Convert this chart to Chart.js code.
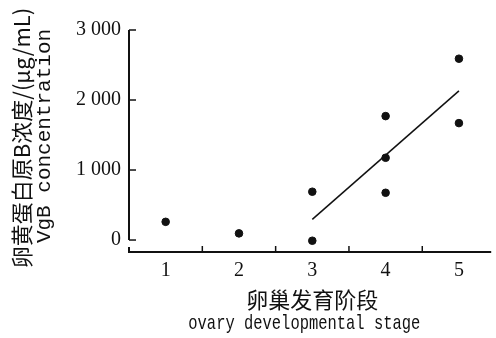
<!DOCTYPE html>
<html>
<head>
<meta charset="utf-8">
<script src="https://cdn.jsdelivr.net/npm/chart.js@4"></script>
<style>
  body { margin: 0; background: #fff; }
  #wrap { width: 496px; height: 338px; }
</style>
</head>
<body>
<div id="wrap"><canvas id="myChart"></canvas></div>
<script>
// data
var stages = [1, 2, 3, 4, 5];
var pointStage = [1, 2, 3, 3, 4, 4, 4, 5, 5];
var pointVgB = [260, 95, 690, -10, 1770, 1175, 675, 2590, 1670];
var trendStage = [3, 5];
var trendVgB = [295, 2130];
var yTicks = [0, 1000, 2000, 3000];

var yTitleZh = "卵黄蛋白原B浓度/(μg/mL)";
var yTitleEn = "VgB concentration";
var xTitleZh = "卵巢发育阶段";
var xTitleEn = "ovary developmental stage";

var ink = "#111";

function spaced(v) {
  return String(v).replace(/\B(?=(\d{3})+(?!\d))/g, " ");
}

var scatterData = [];
for (var i = 0; i < pointStage.length; i++) {
  scatterData.push({ x: pointStage[i], y: pointVgB[i] });
}
var trendData = [];
for (var j = 0; j < trendStage.length; j++) {
  trendData.push({ x: trendStage[j], y: trendVgB[j] });
}

// axes lines, inward ticks and the two-line titles
var axesPlugin = {
  id: "axesPlugin",
  afterDraw: function (chart) {
    var ctx = chart.ctx;
    var ca = chart.chartArea;
    var xs = chart.scales.x;
    var ys = chart.scales.y;
    ctx.save();
    ctx.strokeStyle = ink;
    ctx.lineWidth = 2;

    // y axis from 0 to 3000
    var y0 = ys.getPixelForValue(yTicks[0]);
    var yTop = ys.getPixelForValue(yTicks[yTicks.length - 1]);
    ctx.beginPath();
    ctx.moveTo(ca.left, yTop);
    ctx.lineTo(ca.left, y0);
    ctx.stroke();
    ctx.lineWidth = 1.5;
    for (var k = 0; k < yTicks.length; k++) {
      var py = ys.getPixelForValue(yTicks[k]);
      ctx.beginPath();
      ctx.moveTo(ca.left, py);
      ctx.lineTo(ca.left + 7, py);
      ctx.stroke();
    }

    // x axis
    ctx.lineWidth = 2;
    ctx.beginPath();
    ctx.moveTo(ca.left, ca.bottom - 5);
    ctx.lineTo(ca.left, ca.bottom);
    ctx.lineTo(ca.right, ca.bottom);
    ctx.stroke();
    ctx.lineWidth = 1.5;
    for (var s = 0; s < stages.length - 1; s++) {
      var px = xs.getPixelForValue(stages[s] + 0.5);
      ctx.beginPath();
      ctx.moveTo(px, ca.bottom);
      ctx.lineTo(px, ca.bottom - 6);
      ctx.stroke();
    }

    // titles
    ctx.fillStyle = ink;
    ctx.textAlign = "center";
    ctx.textBaseline = "middle";
    var midX = (xs.getPixelForValue(1) + xs.getPixelForValue(5)) / 2;
    ctx.font = "22px 'Noto Sans CJK SC'";
    ctx.fillText(xTitleZh, midX, 300);
    ctx.font = "21px 'Liberation Mono'";
    ctx.fillText(xTitleEn, midX - 8, 323, 232);

    ctx.save();
    ctx.translate(22, 138);
    ctx.rotate(-Math.PI / 2);
    ctx.font = "22px 'Noto Sans CJK SC'";
    ctx.fillText(yTitleZh, 0, 0, 274);
    ctx.restore();
    ctx.save();
    ctx.translate(44, 136);
    ctx.rotate(-Math.PI / 2);
    ctx.font = "21px 'Liberation Mono'";
    ctx.fillText(yTitleEn, 0, 0, 218);
    ctx.restore();

    ctx.restore();
  }
};

const ctx = document.getElementById("myChart");

new Chart(ctx, {
  type: "scatter",
  data: {
    datasets: [
      {
        data: scatterData,
        backgroundColor: ink,
        borderColor: ink,
        pointRadius: 3.8,
        pointHoverRadius: 3.8
      },
      {
        type: "line",
        data: trendData,
        borderColor: ink,
        borderWidth: 1.5,
        pointRadius: 0,
        fill: false
      }
    ]
  },
  options: {
    responsive: true,
    maintainAspectRatio: false,
    animation: false,
    layout: { padding: { top: 30, right: 3, left: 0, bottom: 0 } },
    plugins: {
      legend: { display: false },
      tooltip: { enabled: false }
    },
    scales: {
      x: {
        type: "linear",
        min: 0.5,
        max: 5.44,
        afterBuildTicks: function (scale) {
          scale.ticks = stages.map(function (v) { return { value: v }; });
        },
        afterFit: function (scale) { scale.height = 86; },
        grid: { display: false, drawTicks: false },
        border: { display: false },
        ticks: {
          padding: 7,
          color: ink,
          font: { family: "'Liberation Serif'", size: 20 },
          callback: function (v) { return String(v); }
        }
      },
      y: {
        min: -171,
        max: 3000,
        afterBuildTicks: function (scale) {
          scale.ticks = yTicks.map(function (v) { return { value: v }; });
        },
        afterFit: function (scale) { scale.width = 129; },
        grid: { display: false, drawTicks: false },
        border: { display: false },
        ticks: {
          padding: 8,
          color: ink,
          font: { family: "'Liberation Serif'", size: 20 },
          callback: function (v) { return spaced(v); }
        }
      }
    }
  },
  plugins: [axesPlugin]
});
</script>
</body>
</html>
